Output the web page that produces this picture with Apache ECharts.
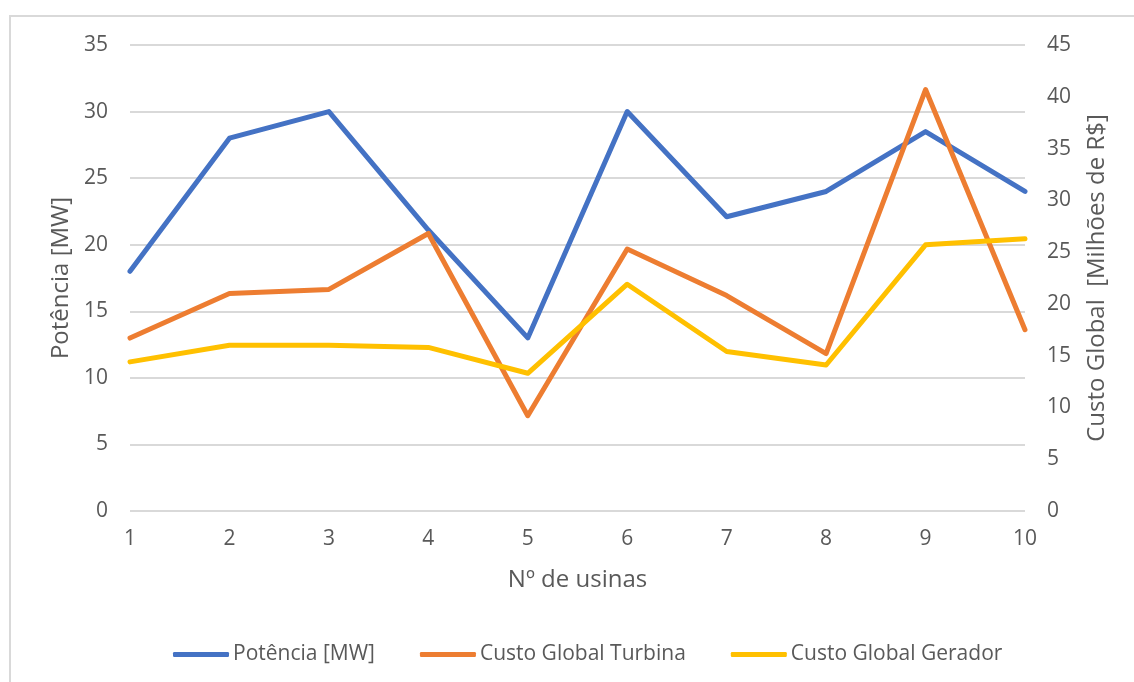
<!DOCTYPE html>
<html>
<head>
<meta charset="utf-8">
<script src="https://cdn.jsdelivr.net/npm/echarts@6/dist/echarts.min.js"></script>
<style>
  html, body { margin: 0; padding: 0; background: #fff; }
  #frame { position: absolute; left: 9px; top: 15px; width: 1140px; height: 700px; border: 2px solid #d9d9d9; box-sizing: border-box; }
  #chart { position: absolute; left: 0; top: 0; width: 1134px; height: 682px; }
</style>
</head>
<body>
<div id="frame"></div>
<div id="chart"></div>
<script>
// Categories: number of plants
const usinas = ['1', '2', '3', '4', '5', '6', '7', '8', '9', '10'];
// Power per plant [MW] (left axis)
const potencia = [18.0, 28.0, 30.0, 21.1, 13.0, 30.0, 22.1, 24.0, 28.5, 24.0];
// Global turbine cost [million R$] (right axis)
const custoTurbina = [16.7, 21.0, 21.4, 26.8, 9.2, 25.3, 20.8, 15.2, 40.7, 17.5];
// Global generator cost [million R$] (right axis)
const custoGerador = [14.4, 16.0, 16.0, 15.8, 13.3, 21.9, 15.4, 14.1, 25.7, 26.3];

const seriesNames = ['Potência [MW]', 'Custo Global Turbina', 'Custo Global Gerador'];
const colors = ['#4472c4', '#ed7d31', '#ffc000'];

const font = 'Open Sans, Noto Sans, sans-serif';
const textColor = '#595959';

const chart = echarts.init(document.getElementById('chart'), null, { renderer: 'canvas' });
chart.setOption({
  animation: false,
  color: colors,
  grid: { left: 130, right: 109, top: 45, bottom: 171, containLabel: false },
  legend: {
    top: 639,
    left: 168,
    itemWidth: 56,
    itemHeight: 5,
    itemGap: 45,
    icon: 'roundRect',
    textStyle: { fontFamily: font, fontSize: 21, color: textColor, padding: [0, 0, 0, -1] },
    data: seriesNames
  },
  xAxis: {
    type: 'category',
    data: usinas,
    boundaryGap: false,
    name: 'Nº de usinas',
    nameLocation: 'middle',
    nameGap: 57,
    nameTextStyle: { fontFamily: font, fontSize: 24, color: textColor },
    axisLine: { show: false },
    axisTick: { show: false },
    axisLabel: { fontFamily: font, fontSize: 21, color: textColor, margin: 18 }
  },
  yAxis: [
    {
      type: 'value',
      min: 0, max: 35, interval: 5,
      name: 'Potência [MW]',
      nameLocation: 'middle',
      nameGap: 56,
      nameTextStyle: { fontFamily: font, fontSize: 24, color: textColor },
      axisLine: { show: false },
      axisTick: { show: false },
      axisLabel: { fontFamily: font, fontSize: 21, color: textColor, margin: 22 },
      splitLine: { lineStyle: { color: '#d9d9d9', width: 2 } }
    },
    {
      type: 'value',
      min: 0, max: 45, interval: 5,
      name: 'Custo Global  [Milhões de R$]',
      nameLocation: 'middle',
      nameGap: 60,
      nameRotate: 90,
      nameTextStyle: { fontFamily: font, fontSize: 24, color: textColor },
      axisLine: { show: false },
      axisTick: { show: false },
      axisLabel: { fontFamily: font, fontSize: 21, color: textColor, margin: 22 },
      splitLine: { show: false }
    }
  ],
  series: [
    { name: seriesNames[0], type: 'line', yAxisIndex: 0, data: potencia, symbol: 'none', lineStyle: { width: 5, cap: 'round', join: 'round' } },
    { name: seriesNames[1], type: 'line', yAxisIndex: 1, data: custoTurbina, symbol: 'none', lineStyle: { width: 5, cap: 'round', join: 'round' } },
    { name: seriesNames[2], type: 'line', yAxisIndex: 1, data: custoGerador, symbol: 'none', lineStyle: { width: 5, cap: 'round', join: 'round' } }
  ]
});
</script>
</body>
</html>
